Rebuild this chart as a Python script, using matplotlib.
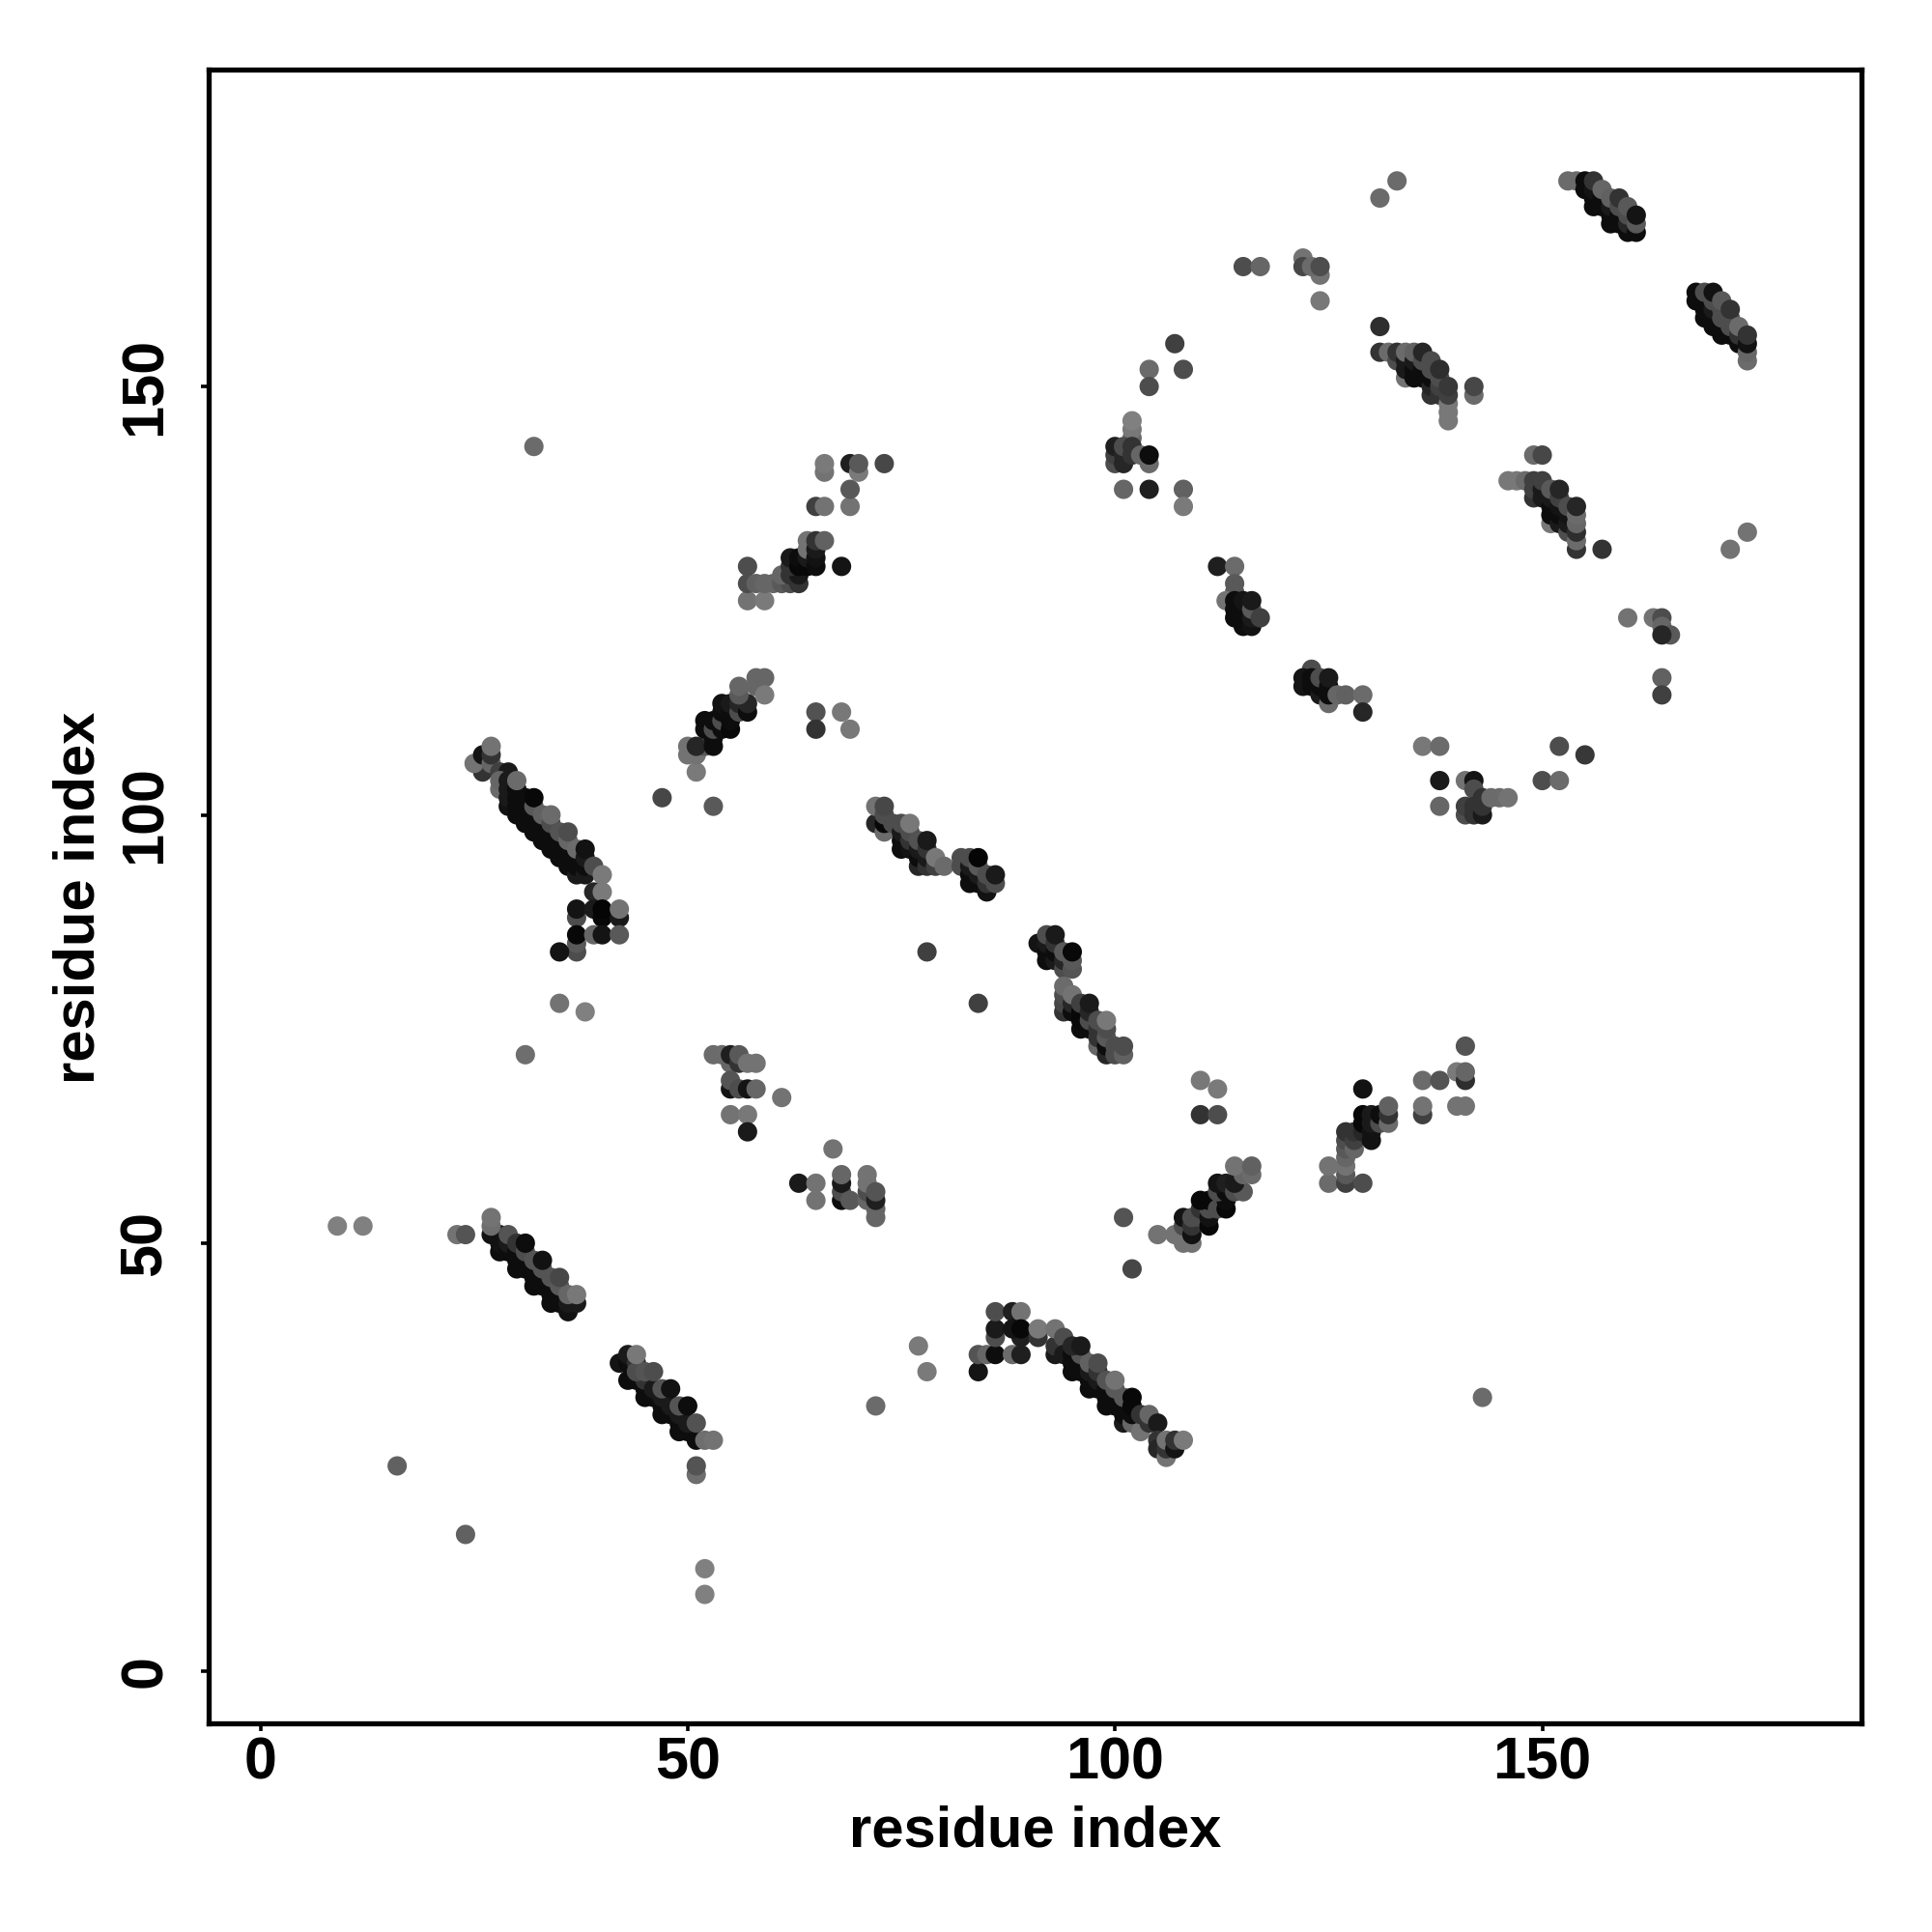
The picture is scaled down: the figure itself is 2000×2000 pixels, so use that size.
import matplotlib
matplotlib.use('Agg')
import matplotlib.pyplot as plt

# contacts: (residue x, residue y, grey level)
isolated = [(9,52,.5),(12,52,.5),(23,51,.45),(24,51,.33),(16,24,.38),(24,16,.38),(52,12,.5),(52,9,.5),
    (143,32,.42),(77,38,.48),(78,35,.48),(72,31,.42),(101,53,.33),(102,47,.28),(47,102,.28),(53,101,.35),
    (65,112,.32),(65,110,.2),(68,112,.47),(69,110,.47),(35,78,.45),(38,77,.5),(31,72,.43),(32,143,.42),
    (78,84,.25),(84,78,.25),(110,69,.47),(112,68,.48),(110,65,.2),(112,65,.3),(133,174,.42),(131,172,.42),
    (115,164,.3),(117,164,.4),(122,165,.45),(122,164,.28),(124,163,.45),(123,164,.42),(124,164,.3),(124,160,.47),
    (107,155,.25),(104,152,.42),(108,152,.3),(104,150,.3),(101,138,.4),(104,138,.12),(108,138,.38),(108,136,.48),
    (157,131,.2),(174,133,.45),(172,131,.45),(142,149,.42),(142,150,.28),(149,142,.42),(150,142,.28),
    (61,67,.45),(67,61,.45),(152,108,.3),(155,107,.22),(150,104,.3),(152,104,.42),(136,108,.47),(138,108,.42),
    (138,104,.1),(138,101,.4),(160,123,.45),(163,123,.45),(164,123,.3),(164,122,.4),(165,121,.35),(164,121,.15),
    (164,116,.38),(164,114,.25),(68,129,.08),(129,68,.07)]

band_a = [(28,49,.05),(30,47,.05),(32,45,.05),(34,43,.05),(27,51,.07),(28,50,.07),(29,49,.05),(30,48,.05),
    (31,47,.05),(32,46,.05),(33,45,.05),(34,44,.05),(35,43,.05),(36,42,.07),(28,51,.07),(29,50,.1),(30,49,.05),
    (31,48,.05),(32,47,.05),(33,46,.05),(34,45,.05),(35,44,.05),(36,43,.1),(27,52,.43),(27,53,.45),(29,51,.33),
    (30,50,.2),(31,49,.3),(32,48,.33),(33,47,.33),(34,46,.33),(35,45,.35),(37,43,.1),(36,44,.4),(31,50,.05),
    (33,48,.07),(35,46,.28),(37,44,.47)]

band_b = [(42,36,.08),(43,34,.05),(45,32,.05),(47,30,.05),(49,28,.05),(43,36,.05),(44,34,.05),(45,33,.05),
    (46,32,.05),(47,31,.05),(48,30,.05),(49,29,.05),(50,28,.05),(51,27,.05),(43,37,.1),(44,36,.2),(45,34,.2),
    (46,33,.1),(47,32,.1),(48,31,.1),(49,30,.1),(50,29,.1),(44,35,.3),(45,35,.33),(47,33,.33),(49,31,.33),
    (44,37,.47),(46,35,.3),(48,33,.07),(50,31,.05),(51,29,.32),(52,27,.43),(53,27,.45),(51,23,.43),(51,24,.33)]

band_c = [(84,35,.08),(84,37,.33),(85,37,.4),(86,37,.05),(86,39,.3),(86,40,.1),(86,42,.3),(88,42,.12),(89,42,.45),
    (88,37,.42),(89,37,.12),(89,39,.12),(88,40,.08),(89,40,.03),(91,39,.2),(91,40,.48),(93,37,.1),(93,38,.2),
    (93,40,.45),(94,39,.3),(95,35,.05),(97,33,.05),(99,31,.05),(101,29,.1),(94,37,.1),(95,36,.05),(96,35,.05),
    (97,34,.05),(98,33,.05),(99,32,.05),(100,31,.05),(101,30,.05),(102,29,.4),(95,37,.05),(96,36,.05),(97,35,.1),
    (98,34,.1),(99,33,.05),(100,32,.05),(101,31,.05),(102,30,.05),(96,37,.33),(97,36,.38),(98,35,.2),(99,34,.33),
    (100,33,.35),(101,32,.35),(103,28,.45),(95,38,.15),(96,38,.1),(98,36,.3),(100,34,.45),(102,31,.03),(102,32,.03),
    (103,30,.2),(104,29,.2),(104,30,.4),(105,29,.1),(105,27,.2),(105,26,.15),(106,25,.45),(106,26,.2),(106,27,.45),
    (107,26,.08),(107,27,.2),(108,27,.48)]

band_d = [(105,51,.45),(107,51,.45),(108,50,.45),(109,50,.45),(108,52,.3),(108,53,.08),(109,51,.07),(109,52,.2),
    (109,53,.3),(110,53,.3),(110,54,.2),(111,52,.03),(111,53,.07),(111,54,.3),(110,55,.03),(111,55,.03),(112,54,.3),
    (113,54,.03),(113,55,.05),(112,56,.3),(113,56,.05),(112,57,.08),(113,57,.12),(114,56,.3),(115,56,.35),(114,57,.1),
    (115,58,.4),(116,58,.42),(114,59,.45),(116,59,.38)]

band_e = [(125,57,.42),(125,59,.45),(127,57,.25),(127,58,.35),(127,59,.45),(127,60,.4),(127,61,.35),(127,62,.3),
    (127,63,.2),(129,57,.3),(128,61,.4),(128,62,.25),(128,63,.2),(129,63,.15),(129,64,.03),(129,65,.03),(130,62,.07),
    (130,63,.07),(130,64,.1),(130,65,.1),(131,64,.3),(131,65,.05),(132,64,.42),(132,65,.2),(132,66,.38),(136,65,.25),
    (136,66,.45),(136,69,.42),(138,69,.33),(140,66,.45),(141,66,.45),(140,70,.48),(141,69,.18),(141,70,.4),(141,73,.33)]

band_f = [(26,105,.2),(26,106,.2),(25,106,.45),(26,107,.08),(27,106,.4),(27,107,.2),(27,108,.45),(28,105,.25),(29,105,.1),
    (28,103,.42),(28,104,.4),(29,104,.1),(29,101,.07),(29,102,.1),(29,103,.1),(30,100,.05),(30,101,.05),(30,102,.05),
    (30,103,.05),(31,99,.05),(31,100,.05),(31,101,.05),(31,102,.05),(30,104,.42),(32,98,.05),(32,99,.05),(32,100,.05),
    (32,101,.35),(32,102,.03),(33,97,.05),(33,98,.05),(33,99,.05),(33,100,.38),(34,96,.05),(34,97,.05),(34,98,.05),
    (34,99,.3),(34,100,.42),(35,95,.05),(35,96,.05),(35,97,.05),(35,98,.33),(36,94,.05),(36,95,.05),(36,96,.05),
    (36,97,.4),(36,98,.3),(37,93,.1),(37,94,.05),(37,95,.05),(37,96,.42),(38,93,.1),(38,94,.05),(38,95,.1),(38,96,.07),
    (39,94,.3),(40,93,.48),(39,91,.15),(40,91,.48),(37,88,.3),(37,89,.08),(39,89,.1),(40,88,.03),(40,89,.02),(42,88,.1),
    (42,89,.45),(37,84,.3),(37,85,.35),(37,86,.03),(35,84,.08),(39,86,.4),(40,86,.08),(42,86,.35)]

band_g = [(51,105,.48),(50,107,.45),(50,108,.45),(51,107,.45),(52,108,.35),(51,108,.15),(53,108,.05),(53,109,.05),(52,110,.05),
    (52,111,.05),(53,110,.3),(53,111,.05),(54,110,.05),(54,111,.3),(54,112,.05),(54,113,.07),(55,110,.03),(55,111,.05),
    (55,112,.05),(55,113,.1),(56,112,.3),(56,113,.15),(57,112,.05),(57,113,.15),(56,114,.35),(56,115,.4),(58,115,.4),
    (58,116,.4),(59,116,.4),(59,114,.48)]

band_h = [(57,125,.45),(59,125,.48),(57,127,.3),(57,129,.3),(58,127,.38),(59,127,.4),(60,127,.4),(61,127,.35),(62,127,.3),
    (63,127,.2),(61,128,.4),(62,128,.2),(63,128,.1),(62,129,.2),(62,130,.1),(63,129,.03),(63,130,.05),(64,129,.03),
    (64,130,.1),(64,131,.45),(64,132,.45),(65,129,.05),(65,130,.07),(65,131,.1),(65,132,.2),(66,132,.38),(65,136,.25),
    (66,136,.45),(69,136,.45),(69,138,.35),(66,140,.45),(66,141,.48),(69,141,.12),(70,140,.48),(70,141,.35),(73,141,.28)]

band_i = [(53,72,.42),(54,72,.42),(55,71,.4),(55,72,.12),(56,71,.2),(56,72,.35),(57,71,.45),(58,71,.45),(55,68,.08),
    (55,69,.33),(56,68,.3),(57,68,.08),(58,68,.4),(55,65,.45),(57,65,.47),(57,63,.1)]

band_j = [(63,57,.1),(65,55,.45),(65,57,.45),(68,55,.05),(68,56,.3),(68,57,.1),(68,58,.4),(69,55,.35),(71,55,.4),(71,56,.3),
    (71,57,.45),(71,58,.45),(72,53,.4),(72,54,.4),(72,55,.12),(72,56,.33)]

band_k = [(72,99,.15),(72,101,.45),(73,98,.42),(73,99,.03),(73,100,.3),(73,101,.28),(74,99,.3),(75,96,.05),(75,97,.05),(75,98,.1),
    (75,99,.3),(76,96,.07),(76,97,.2),(76,98,.3),(76,99,.47),(77,94,.15),(77,95,.05),(77,96,.1),(77,97,.32),(78,94,.2),(78,95,.1),
    (78,96,.2),(78,97,.1),(79,94,.25),(79,95,.47),(80,94,.42),(82,94,.3),(82,95,.3),(83,92,.05),(83,93,.05),(83,94,.1),(83,95,.3),
    (84,92,.05),(84,93,.1),(84,94,.35),(84,95,.02),(85,91,.07),(85,92,.2),(85,93,.3),(86,92,.3),(86,93,.1)]

band_l = [(91,85,.08),(92,83,.05),(92,84,.05),(92,85,.1),(92,86,.3),(93,83,.1),(93,84,.05),(93,85,.2),(93,86,.1),(94,82,.3),(94,83,.15),
    (94,84,.35),(95,82,.33),(95,83,.35),(95,84,.03),(94,77,.2),(94,78,.28),(94,79,.3),(94,80,.42),(95,77,.05),(95,78,.15),(95,79,.45),
    (96,75,.05),(96,76,.03),(96,77,.03),(96,78,.25),(97,75,.05),(97,76,.3),(97,77,.15),(97,78,.1),(98,73,.4),(98,74,.2),(98,75,.2),
    (98,76,.3),(99,72,.15),(99,73,.05),(99,74,.35),(99,75,.3),(99,76,.47),(100,72,.3),(100,73,.3),(101,72,.38),(101,73,.3)]

band_m = [(153,174,.42),(154,174,.42),(155,173,.05),(155,174,.05),(156,171,.05),(156,172,.05),(156,173,.08),(156,174,.2),(157,171,.05),
    (157,172,.05),(157,173,.4),(158,169,.05),(158,170,.05),(158,171,.1),(158,172,.38),(159,169,.05),(159,170,.05),(159,171,.3),(159,172,.2),
    (160,168,.05),(160,169,.15),(160,170,.3),(160,171,.35),(161,168,.05),(161,169,.35),(161,170,.08)]

band_n = [(168,160,.05),(168,161,.05),(169,158,.05),(169,159,.05),(169,160,.05),(169,161,.3),(170,157,.05),(170,158,.05),(170,159,.1),(170,160,.3),
    (170,161,.07),(171,156,.05),(171,157,.05),(171,158,.3),(171,159,.3),(171,160,.35),(172,156,.05),(172,157,.3),(172,158,.3),(172,159,.2),
    (173,155,.05),(173,156,.2),(173,157,.42),(174,153,.42),(174,154,.4),(174,155,.07),(174,156,.2)]

band_o = [(131,157,.18),(131,154,.2),(132,154,.42),(133,153,.3),(133,154,.2),(134,151,.45),(134,153,.1),(134,152,.1),(134,154,.42),(135,151,.05),(135,152,.05),
    (135,153,.1),(135,154,.38),(136,151,.05),(136,152,.05),(136,153,.3),(136,154,.15),(137,149,.2),(137,150,.15),(137,151,.05),(137,152,.3),(137,153,.3),
    (138,149,.2),(138,150,.25),(138,151,.3),(138,152,.18),(139,146,.47),(139,147,.47),(139,148,.47),(139,149,.25),(139,150,.22)]

band_p = [(146,139,.47),(147,139,.47),(148,139,.42),(149,137,.2),(149,138,.25),(149,139,.25),(150,137,.1),(150,138,.1),(150,139,.25),(151,134,.47),(151,135,.05),
    (151,136,.05),(151,137,.1),(151,138,.35),(152,134,.1),(152,135,.05),(152,136,.08),(152,137,.25),(152,138,.15),(153,133,.3),(153,134,.1),(153,135,.08),
    (153,136,.3),(154,131,.2),(154,132,.42),(154,133,.18),(154,134,.4),(154,135,.42),(154,136,.15)]

band_q = [(112,129,.12),(114,129,.42),(114,127,.35),(114,126,.35),(113,125,.45),(114,123,.05),(114,124,.05),(114,125,.05),(115,122,.05),(115,123,.05),(115,124,.05),
    (115,125,.08),(116,122,.07),(116,123,.1),(116,124,.35),(116,125,.1),(117,123,.25)]

band_r = [(123,117,.3),(122,115,.08),(122,116,.08),(123,115,.05),(123,116,.05),(124,114,.1),(124,115,.05),(124,116,.3),(125,113,.42),(125,114,.05),(125,115,.05),
    (125,116,.1),(126,114,.4),(127,114,.38),(129,114,.42),(129,112,.15)]

band_s = [(102,144,.42),(102,145,.47),(102,146,.5),(100,141,.3),(100,142,.25),(100,143,.12),(101,141,.15),(101,142,.15),(101,143,.3),(102,142,.2),(102,143,.2),
    (103,142,.4),(104,141,.42),(104,142,.05)]

band_t = [(141,104,.45),(142,104,.08),(142,103,.3),(141,100,.3),(141,101,.25),(142,100,.2),(142,101,.2),(143,100,.1),(143,101,.2),(143,102,.2),(144,102,.42),
    (145,102,.42),(146,102,.45)]

xy_ticks = [0, 50, 100, 150]

clusters = [isolated, band_a, band_b, band_c, band_d, band_e, band_f, band_g, band_h, band_i, band_j,
    band_k, band_l, band_m, band_n, band_o, band_p, band_q, band_r, band_s, band_t]

plt.rcParams['font.family'] = ['Liberation Sans', 'DejaVu Sans']
plt.rcParams['font.weight'] = 'bold'

fig = plt.figure(figsize=(10, 10), dpi=200)
ax = fig.add_axes([0.1080, 0.1080, 0.8557, 0.8560])

for pts in clusters:
    xs = [p[0] for p in pts]
    ys = [p[1] for p in pts]
    cols = [str(p[2]) for p in pts]
    ax.scatter(xs, ys, c=cols, s=52, linewidths=0, zorder=2)

ax.set_xlim(-6.06, 187.4)
ax.set_ylim(-6.05, 187.0)
ax.set_xticks(xy_ticks)
ax.set_yticks(xy_ticks)
ax.tick_params(axis='both', length=3, width=1.3, labelsize=22)
ax.tick_params(axis='x', pad=2)
ax.tick_params(axis='y', pad=10)
for lab in ax.get_yticklabels():
    lab.set_rotation(90)
    lab.set_va('center')
for sp in ax.spines.values():
    sp.set_linewidth(1.9)

ax.set_xlabel('residue index', fontsize=21.5, fontweight='bold')
ax.set_ylabel('residue index', fontsize=21.5, fontweight='bold')
ax.xaxis.set_label_coords(0.5, -0.0495)
ax.yaxis.set_label_coords(-0.0625, 0.4995)

fig.savefig('out.png', dpi=200)
